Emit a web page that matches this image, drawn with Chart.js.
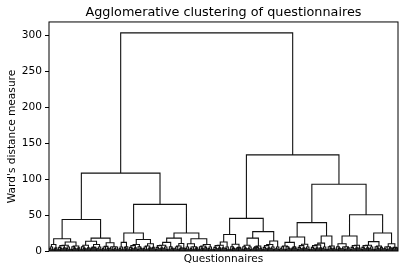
<!DOCTYPE html>
<html>
<head>
<meta charset="utf-8">
<script src="https://cdn.jsdelivr.net/npm/chart.js@4/dist/chart.umd.min.js"></script>
<style>
  html, body { margin: 0; padding: 0; background: #fff; }
  #wrap { width: 407px; height: 273px; }
</style>
</head>
<body>
<div id="wrap"><canvas id="c" width="407" height="273"></canvas></div>
<script>
// ---------------- DATA ----------------
// Tree written as nested merges: "(" left right ")" mergeHeight ; "o" is one questionnaire (leaf)
const chartTitle = "Agglomerative clustering of questionnaires";
const xAxisLabel = "Questionnaires";
const yAxisLabel = "Ward's distance measure";
const yTicks = [0, 50, 100, 150, 200, 250, 300];

// small low-level groups (leaf merges near the bottom)
const A = "((oo)3o)4.5";
const B = "((oo)3.5(oo)2.5)5.5";
const C = "(oo)4";
const E = "((oo)2.5(o(oo)3)4)6";
const F = "(((oo)2.5(oo)3.5)5((oo)3o)4.5)7.5";
const H = "(o(oo)3)5";

// mid-level clusters (heights ~8-25)
const L1a1 = `(${B}${A})9`;
const L1a2 = `((${F}${B})8(${E}${A})7)12.5`;
const L1b1 = `((${E}${A})8((${A}${H})5.5${B})9)13.5`;
const L1b2 = `((${B}${C})6.5(${B}${B})6)11.5`;
const L2a1 = `(${B}(${H}o)6)12`;
const L2a2 = `((${F}${E})9((${B}${A})7(${C}o)5)10)16`;
const L2b1 = `(((${F}${B})8${E})12((${B}${A})7${C})10.5)18`;
const L2b2 = `((${B}(${B}${A})6)10((${E}${H})7${B})9)17`;
const R1a1 = `((${F}${A})8${B})12.5`;
const R1a2 = `(${E}(${A}${C})5)9.5`;
const R1b1 = `((${E}${B})8((${A}${H})6${C})7)18`;
const R1b2 = `((${F}${B})9${B})14`;
const R2a1a = `((${B}${E})7(${A}${C})6)12`;
const R2a1b = `(${F}${B})9.5`;
const R2a2 = `(((${F}${A})8.5${B})11(${E}${C})7)21`;
const R2b1 = `((${E}(${B}${A})6)10(${F}${C})8)21`;
const R2b2 = `(((${F}${B})8(${E}${H})7)13((${B}${A})6(${C}${A})5)10)25`;

// upper merges
const L1 = `((${L1a1}${L1a2})17(${L1b1}${L1b2})18)44`;
const L2 = `((${L2a1}${L2a2})25(${L2b1}${L2b2})25)65`;
const R1 = `((${R1a1}${R1a2})23(${R1b1}${R1b2})27)45.5`;
const R2 = `(((${R2a1a}${R2a1b})19.5${R2a2})39.5(${R2b1}${R2b2})50.5)93`;
const treeString = `((${L1}${L2})108.5(${R1}${R2})134)304`;

// ---------------- BUILD ----------------
function parseTree(s) {
  let i = 0;
  function node() {
    if (s[i] === 'o') { i++; return { leaf: true }; }
    if (s[i] !== '(') throw new Error('bad tree at ' + i);
    i++;
    const a = node();
    const b = node();
    if (s[i] !== ')') throw new Error('expected ) at ' + i);
    i++;
    let j = i;
    while (i < s.length && /[0-9.]/.test(s[i])) i++;
    return { a, b, h: parseFloat(s.slice(j, i)) };
  }
  return node();
}

const tree = parseTree(treeString);
const segPoints = [];
let leafCount = 0;
function layout(n) {
  if (n.leaf) { const x = 10 * leafCount + 5; leafCount++; return { x, h: 0 }; }
  const l = layout(n.a);
  const r = layout(n.b);
  segPoints.push({ x: l.x, y: l.h }, { x: l.x, y: n.h }, { x: r.x, y: n.h }, { x: r.x, y: r.h }, { x: r.x, y: null });
  return { x: (l.x + r.x) / 2, h: n.h };
}
layout(tree);
const maxHeight = tree.h;

const frame = {
  id: 'frame',
  afterDraw(chart) {
    const { ctx, chartArea: a } = chart;
    ctx.save();
    ctx.strokeStyle = '#000';
    ctx.lineWidth = 1;
    ctx.strokeRect(a.left, a.top, a.right - a.left, a.bottom - a.top);
    ctx.restore();
  }
};

const fam = "'DejaVu Sans', 'Liberation Sans', sans-serif";
new Chart(document.getElementById('c'), {
  type: 'line',
  data: {
    datasets: [{
      data: segPoints,
      borderColor: '#111',
      borderWidth: 1.1,
      pointRadius: 0,
      spanGaps: false,
      tension: 0,
      fill: false
    }]
  },
  options: {
    responsive: false,
    animation: false,
    events: [],
    layout: { padding: { top: 0, right: 9, left: 0, bottom: 0 } },
    plugins: {
      legend: { display: false },
      tooltip: { enabled: false },
      title: {
        display: true,
        fullSize: false,
        text: chartTitle,
        color: '#000',
        font: { family: fam, size: 12.8, weight: 'normal' },
        padding: { top: 5, bottom: 1.6 }
      }
    },
    scales: {
      x: {
        type: 'linear',
        min: 0,
        max: 10 * leafCount,
        ticks: { display: false },
        grid: { display: false },
        border: { display: false },
        title: {
          display: true,
          text: xAxisLabel,
          color: '#000',
          font: { family: fam, size: 10.6 },
          padding: { top: 0, bottom: 7 }
        },
        afterFit(s) { s.height = 22; }
      },
      y: {
        min: 0,
        max: maxHeight * 1.05,
        afterBuildTicks(s) { s.ticks = yTicks.map(v => ({ value: v })); },
        ticks: { color: '#000', font: { family: fam, size: 10.6 }, padding: 3, includeBounds: false },
        grid: { display: true, drawOnChartArea: false, drawTicks: true, tickLength: 4, color: '#000' },
        border: { display: false },
        title: {
          display: true,
          text: yAxisLabel,
          color: '#000',
          font: { family: fam, size: 10.6 },
          padding: { top: 6, bottom: 0 }
        },
        afterFit(s) { s.width = 49; }
      }
    }
  },
  plugins: [frame]
});
</script>
</body>
</html>
